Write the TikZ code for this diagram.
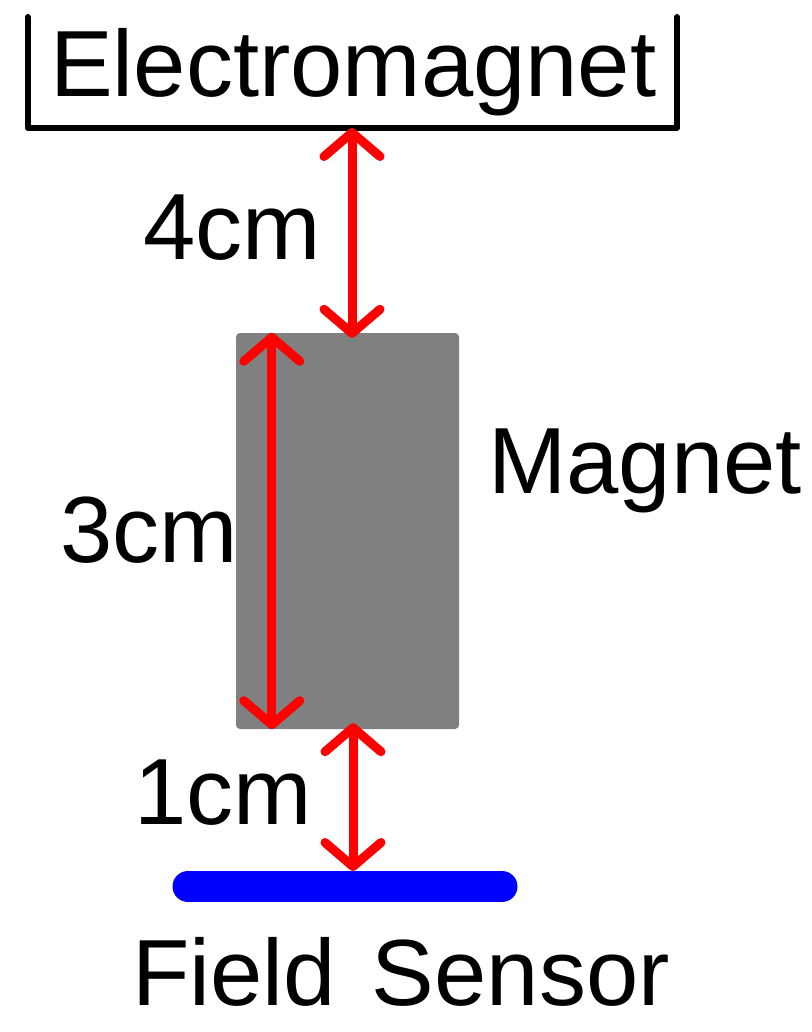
\documentclass[tikz,border=0pt]{standalone}
\usepackage{fontspec}
\setmainfont{Liberation Sans}
\usetikzlibrary{arrows.meta}

\tikzset{
	bigtext/.style={inner sep=0pt, anchor=base west, font=\fontsize{94}{100}\selectfont},
	bracket/.style={line width=6pt, black, line cap=round, line join=round},
	magnetbox/.style={fill=gray, draw=none, rounded corners=4pt, inner sep=0pt,
		minimum width=223pt, minimum height=396pt},
	dimarrow/.style={line width=9pt, red, line cap=round,
		{Straight Barb[length=24pt, width=56pt, line cap=round, line join=round]}-{Straight Barb[length=24pt, width=56pt, line cap=round, line join=round]}},
	sensorbar/.style={line width=31pt, blue, line cap=round}
}

\begin{document}
\begin{tikzpicture}[x=1pt, y=-1pt]
	\useasboundingbox (0,0) rectangle (811,1032);

	% electromagnet
	\draw [bracket] (27.5,17) |- (677,128) -- (677,17);
	\node [bigtext] (emlabel) at (50,97) {Electromagnet};
	\coordinate (embase) at (352,128);

	% magnet and sensor
	\node [magnetbox] (magnet) at (347.5,531) {};
	\node [bigtext] (maglabel) at (488,493) {Magnet};
	\draw [sensorbar] (188,886.5) coordinate (sensorL) -- (502,886.5) coordinate (sensorR);
	\coordinate (sensortop) at (353,871);
	\node [bigtext] (senslabel) at (132,1005) {Field\hspace{10pt} Sensor};

	% distances
	\draw [dimarrow] (embase) -- ([yshift=-5pt]magnet.north -| embase);
	\draw [dimarrow] ([xshift=36pt]magnet.north west) -- ([xshift=36pt]magnet.south west);
	\draw [dimarrow] ([yshift=6pt]magnet.south -| sensortop) -- (sensortop);
	\node [bigtext] (gapfour) at (143.5,259) {4cm};
	\node [bigtext] (lenthree) at (60,562) {3cm};
	\node [bigtext] (gapone) at (134,824) {1cm};
\end{tikzpicture}
\end{document}
